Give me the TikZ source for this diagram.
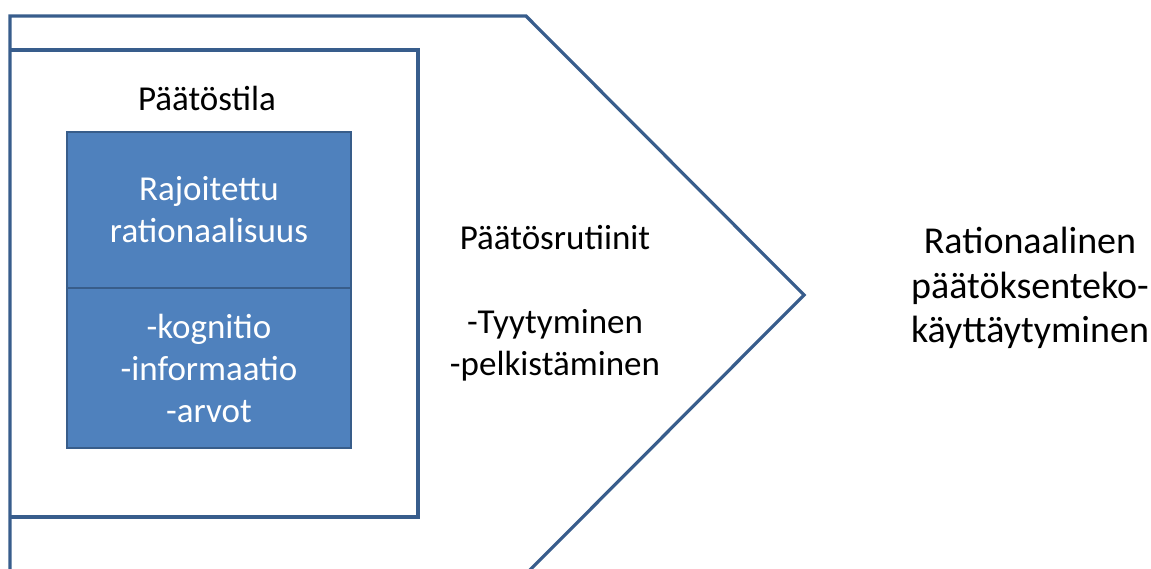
\documentclass[tikz,border=0pt]{standalone}
\usepackage{fontspec}
\setmainfont{Carlito}
\definecolor{frameblue}{HTML}{385D8C}
\definecolor{boxfill}{HTML}{4F81BD}
\definecolor{boxedge}{HTML}{385D8A}
\tikzset{
  frame/.style={draw=frameblue, line width=3.2pt, line join=miter},
  bluebox/.style={draw=boxedge, line width=1.8pt, fill=boxfill, text=white,
    inner sep=0pt, minimum width=284pt, align=center,
    font=\fontsize{35}{42}\selectfont},
  label/.style={align=center, text=black, inner sep=0pt,
    font=\fontsize{35}{42}\selectfont},
  biglabel/.style={align=center, text=black, inner sep=0pt,
    font=\fontsize{38}{44.5}\selectfont}
}
\begin{document}
\begin{tikzpicture}[x=1pt,y=-1pt]
\useasboundingbox (0,0) rectangle (1151,569);
% outer chevron, open at the bottom edge
\coordinate (cTL) at (10,16);
\coordinate (cTR) at (526,16);
\coordinate (cTip) at (804,295);
\coordinate (cBR) at (521,579);
\coordinate (cBL) at (10,585);
\draw[frame] (cBL) -- (cTL) -- (cTR) -- (cTip) -- (cBR);
% inner decision-space frame
\coordinate (iTL) at (10,50);
\coordinate (iTR) at (418,50);
\coordinate (iBR) at (418,517);
\coordinate (iBL) at (10,517);
\draw[frame] (iTL) -- (iTR) -- (iBR) -- (iBL);
% labels
\node[label] (space) at (207,98) {Päätöstila};
\node[bluebox, minimum height=156pt] (bounded) at (209,210)
  {Rajoitettu\\rationaalisuus};
\node[bluebox, minimum height=160pt] (factors) at (209,368)
  {-kognitio\\-informaatio\\-arvot};
\node[label] (routines) at (555,303)
  {Päätösrutiinit\\[42pt]-Tyytyminen\\-pelkistäminen};
\node[biglabel] (result) at (1030,288)
  {Rationaalinen\\päätöksenteko-\\käyttäytyminen};
\end{tikzpicture}
\end{document}
